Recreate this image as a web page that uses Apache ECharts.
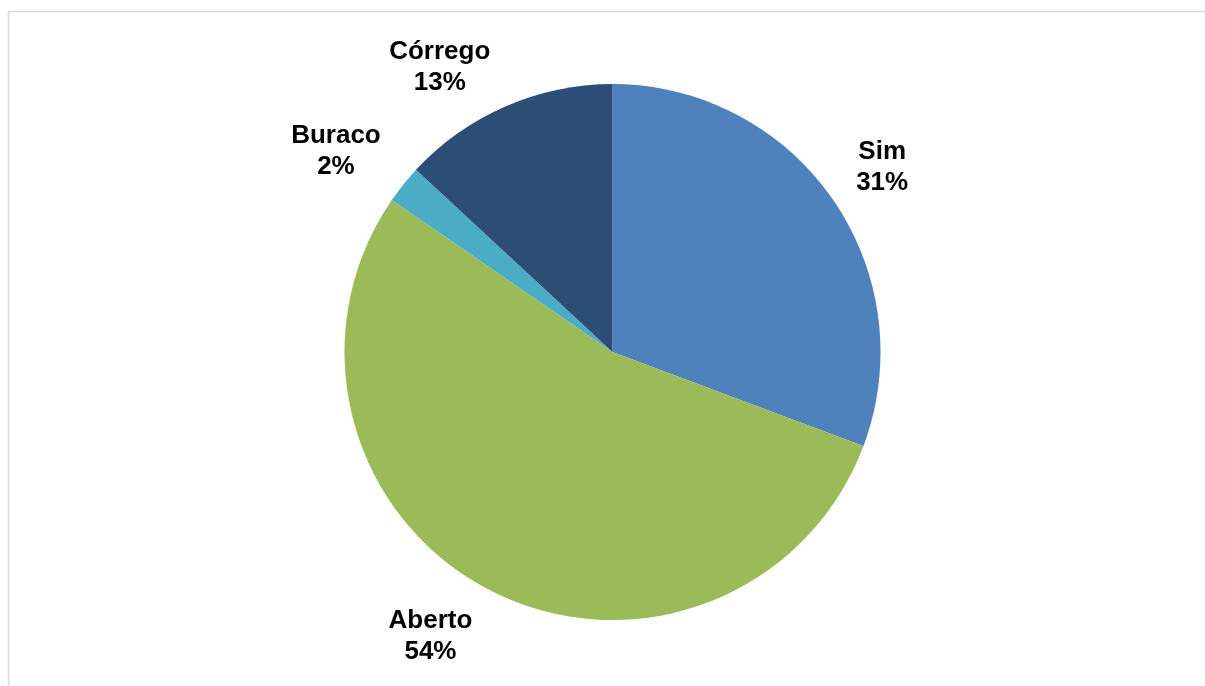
<!DOCTYPE html>
<html>
<head>
<meta charset="utf-8">
<script src="https://cdn.jsdelivr.net/npm/echarts@6/dist/echarts.min.js"></script>
<style>
html,body{margin:0;padding:0;background:#fff;}
#chart{width:1205px;height:686px;}
</style>
</head>
<body>
<div id="chart"></div>
<script>
const categories = ['Sim', 'Aberto', 'Buraco', 'Córrego'];
const values = [30.7, 53.9, 2.3, 13.1];
const colors = ['#4F81BD', '#9BBB59', '#4BACC6', '#2C4D75'];

const CX = 612.5, CY = 352, R = 268, GAP = 20;
const total = values.reduce((a, b) => a + b, 0);
function midAngle(i) {
  let cum = 0;
  for (let k = 0; k < i; k++) cum += values[k];
  return (cum + values[i] / 2) / total * 2 * Math.PI;
}

const chart = echarts.init(document.getElementById('chart'), null, {renderer: 'canvas'});
chart.setOption({
  backgroundColor: '#ffffff',
  animation: false,
  graphic: [{
    type: 'rect',
    shape: {x: 8.5, y: 11.5, width: 1300, height: 800},
    style: {fill: 'none', stroke: '#d9d9d9', lineWidth: 1.5},
    silent: true
  }],
  series: [{
    type: 'pie',
    center: [CX, CY],
    radius: [0, R],
    startAngle: 90,
    clockwise: true,
    percentPrecision: 0,
    data: categories.map((c, i) => ({name: c, value: values[i], itemStyle: {color: colors[i]}})),
    itemStyle: {borderWidth: 0},
    label: {
      show: true,
      position: 'outside',
      formatter: '{b}\n{d}%',
      fontFamily: 'Liberation Sans, Arial, sans-serif',
      fontWeight: 'bold',
      fontSize: 26,
      lineHeight: 31,
      color: '#000000'
    },
    labelLine: {show: false},
    labelLayout: function (p) {
      const a = midAngle(p.dataIndex);
      const dx = Math.sin(a), dy = -Math.cos(a);
      const w = p.labelRect.width / 2, h = p.labelRect.height / 2;
      const ax = CX + dx * (R + GAP), ay = CY + dy * (R + GAP);
      return {
        x: ax + Math.sign(dx) * (w + 7),
        y: ay + Math.sign(dy) * h + (dy < 0 ? 10 : -2),
        align: 'center', verticalAlign: 'middle'
      };
    },
    emphasis: {disabled: true}
  }]
});
</script>
</body>
</html>
